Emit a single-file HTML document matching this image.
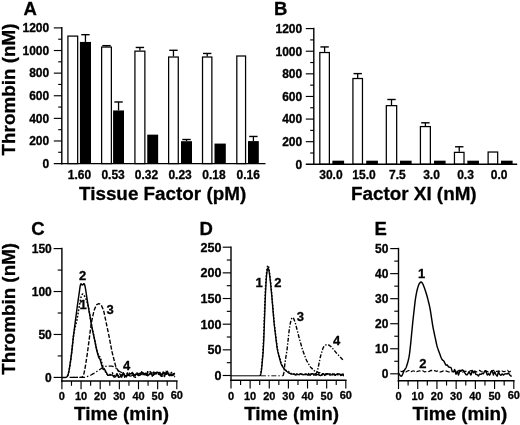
<!DOCTYPE html>
<html><head><meta charset="utf-8"><title>Figure</title>
<style>
html,body{margin:0;padding:0;background:#fff;overflow:hidden;}
svg{will-change:transform;filter:blur(0.35px);display:block;position:absolute;left:0;top:0;font-family:"Liberation Sans",sans-serif;font-weight:bold;fill:#000;}
svg text{stroke:#000;stroke-width:0.3px;stroke-linejoin:round;}
</style></head>
<body>
<svg width="520" height="425" viewBox="0 0 520 425">
<rect x="0" y="0" width="520" height="425" fill="#fff"/>
<rect x="67.92" y="36.10" width="9.75" height="127.50" fill="#fff" stroke="#000" stroke-width="1.25"/>
<line x1="85.45" y1="34.69" x2="85.45" y2="41.92" stroke="#000" stroke-width="1.3" />
<line x1="81.25" y1="34.69" x2="89.65" y2="34.69" stroke="#000" stroke-width="1.4" />
<rect x="79.90" y="41.92" width="11.10" height="121.68" fill="#000"/>
<text x="79.40" y="178.80" font-size="12" text-anchor="middle" >1.60</text>
<line x1="106.50" y1="45.65" x2="106.50" y2="46.45" stroke="#000" stroke-width="1.3" />
<line x1="102.30" y1="45.65" x2="110.70" y2="45.65" stroke="#000" stroke-width="1.4" />
<rect x="101.62" y="47.07" width="9.75" height="116.53" fill="#fff" stroke="#000" stroke-width="1.25"/>
<line x1="118.55" y1="101.97" x2="118.55" y2="110.45" stroke="#000" stroke-width="1.3" />
<line x1="114.35" y1="101.97" x2="122.75" y2="101.97" stroke="#000" stroke-width="1.4" />
<rect x="113.10" y="110.45" width="10.90" height="53.15" fill="#000"/>
<text x="113.10" y="178.80" font-size="12" text-anchor="middle" >0.53</text>
<line x1="139.90" y1="47.46" x2="139.90" y2="50.52" stroke="#000" stroke-width="1.3" />
<line x1="135.70" y1="47.46" x2="144.10" y2="47.46" stroke="#000" stroke-width="1.4" />
<rect x="134.92" y="51.14" width="9.95" height="112.46" fill="#fff" stroke="#000" stroke-width="1.25"/>
<rect x="147.25" y="134.65" width="10.90" height="28.95" fill="#000"/>
<text x="146.40" y="178.80" font-size="12" text-anchor="middle" >0.32</text>
<line x1="173.45" y1="50.29" x2="173.45" y2="56.40" stroke="#000" stroke-width="1.3" />
<line x1="169.25" y1="50.29" x2="177.65" y2="50.29" stroke="#000" stroke-width="1.4" />
<rect x="168.62" y="57.02" width="9.65" height="106.58" fill="#fff" stroke="#000" stroke-width="1.25"/>
<line x1="186.50" y1="139.51" x2="186.50" y2="141.21" stroke="#000" stroke-width="1.3" />
<line x1="182.30" y1="139.51" x2="190.70" y2="139.51" stroke="#000" stroke-width="1.4" />
<rect x="181.00" y="141.21" width="11.00" height="22.39" fill="#000"/>
<text x="180.10" y="178.80" font-size="12" text-anchor="middle" >0.23</text>
<line x1="207.20" y1="53.46" x2="207.20" y2="56.40" stroke="#000" stroke-width="1.3" />
<line x1="203.00" y1="53.46" x2="211.40" y2="53.46" stroke="#000" stroke-width="1.4" />
<rect x="202.52" y="57.02" width="9.35" height="106.58" fill="#fff" stroke="#000" stroke-width="1.25"/>
<rect x="214.50" y="143.58" width="11.30" height="20.02" fill="#000"/>
<text x="214.00" y="178.80" font-size="12" text-anchor="middle" >0.18</text>
<rect x="236.82" y="56.00" width="8.75" height="107.60" fill="#fff" stroke="#000" stroke-width="1.25"/>
<line x1="253.40" y1="136.46" x2="253.40" y2="141.10" stroke="#000" stroke-width="1.3" />
<line x1="249.20" y1="136.46" x2="257.60" y2="136.46" stroke="#000" stroke-width="1.4" />
<rect x="248.00" y="141.10" width="10.80" height="22.50" fill="#000"/>
<text x="248.30" y="178.80" font-size="12" text-anchor="middle" >0.16</text>
<line x1="61.80" y1="27.10" x2="61.80" y2="164.40" stroke="#000" stroke-width="1.4" />
<line x1="53.80" y1="163.60" x2="265.50" y2="163.60" stroke="#000" stroke-width="1.4" />
<text x="49.20" y="167.90" font-size="12" text-anchor="end" >0</text>
<line x1="58.20" y1="152.29" x2="61.80" y2="152.29" stroke="#000" stroke-width="1.15" />
<line x1="53.80" y1="140.98" x2="61.80" y2="140.98" stroke="#000" stroke-width="1.15" />
<text x="49.20" y="145.28" font-size="12" text-anchor="end" >200</text>
<line x1="58.20" y1="129.68" x2="61.80" y2="129.68" stroke="#000" stroke-width="1.15" />
<line x1="53.80" y1="118.37" x2="61.80" y2="118.37" stroke="#000" stroke-width="1.15" />
<text x="49.20" y="122.66" font-size="12" text-anchor="end" >400</text>
<line x1="58.20" y1="107.06" x2="61.80" y2="107.06" stroke="#000" stroke-width="1.15" />
<line x1="53.80" y1="95.75" x2="61.80" y2="95.75" stroke="#000" stroke-width="1.15" />
<text x="49.20" y="100.05" font-size="12" text-anchor="end" >600</text>
<line x1="58.20" y1="84.44" x2="61.80" y2="84.44" stroke="#000" stroke-width="1.15" />
<line x1="53.80" y1="73.13" x2="61.80" y2="73.13" stroke="#000" stroke-width="1.15" />
<text x="49.20" y="77.43" font-size="12" text-anchor="end" >800</text>
<line x1="58.20" y1="61.83" x2="61.80" y2="61.83" stroke="#000" stroke-width="1.15" />
<line x1="53.80" y1="50.52" x2="61.80" y2="50.52" stroke="#000" stroke-width="1.15" />
<text x="49.20" y="54.81" font-size="12" text-anchor="end" >1000</text>
<line x1="58.20" y1="39.21" x2="61.80" y2="39.21" stroke="#000" stroke-width="1.15" />
<line x1="53.80" y1="27.90" x2="61.80" y2="27.90" stroke="#000" stroke-width="1.15" />
<text x="49.20" y="32.20" font-size="12" text-anchor="end" >1200</text>
<text x="23.50" y="14.80" font-size="18.5" text-anchor="start" >A</text>
<text x="79.00" y="199.60" font-size="18.85" text-anchor="start" >Tissue Factor (pM)</text>
<line x1="324.60" y1="46.92" x2="324.60" y2="51.90" stroke="#000" stroke-width="1.3" />
<line x1="320.40" y1="46.92" x2="328.80" y2="46.92" stroke="#000" stroke-width="1.4" />
<rect x="319.82" y="52.52" width="9.55" height="111.78" fill="#fff" stroke="#000" stroke-width="1.25"/>
<rect x="332.40" y="160.68" width="11.70" height="3.62" fill="#000"/>
<text x="330.90" y="178.80" font-size="12" text-anchor="middle" >30.0</text>
<line x1="357.70" y1="73.61" x2="357.70" y2="77.90" stroke="#000" stroke-width="1.3" />
<line x1="353.50" y1="73.61" x2="361.90" y2="73.61" stroke="#000" stroke-width="1.4" />
<rect x="352.92" y="78.52" width="9.55" height="85.78" fill="#fff" stroke="#000" stroke-width="1.25"/>
<rect x="366.20" y="160.68" width="11.70" height="3.62" fill="#000"/>
<text x="364.00" y="178.80" font-size="12" text-anchor="middle" >15.0</text>
<line x1="391.50" y1="99.50" x2="391.50" y2="105.04" stroke="#000" stroke-width="1.3" />
<line x1="387.30" y1="99.50" x2="395.70" y2="99.50" stroke="#000" stroke-width="1.4" />
<rect x="386.32" y="105.66" width="10.35" height="58.64" fill="#fff" stroke="#000" stroke-width="1.25"/>
<rect x="400.00" y="160.68" width="11.60" height="3.62" fill="#000"/>
<text x="397.40" y="178.80" font-size="12" text-anchor="middle" >7.5</text>
<line x1="425.40" y1="122.80" x2="425.40" y2="125.96" stroke="#000" stroke-width="1.3" />
<line x1="421.20" y1="122.80" x2="429.60" y2="122.80" stroke="#000" stroke-width="1.4" />
<rect x="420.42" y="126.58" width="9.95" height="37.72" fill="#fff" stroke="#000" stroke-width="1.25"/>
<rect x="434.00" y="160.68" width="11.60" height="3.62" fill="#000"/>
<text x="431.50" y="178.80" font-size="12" text-anchor="middle" >3.0</text>
<line x1="459.24" y1="146.77" x2="459.24" y2="151.75" stroke="#000" stroke-width="1.3" />
<line x1="455.04" y1="146.77" x2="463.44" y2="146.77" stroke="#000" stroke-width="1.4" />
<rect x="454.46" y="152.37" width="9.55" height="11.93" fill="#fff" stroke="#000" stroke-width="1.25"/>
<rect x="467.34" y="160.68" width="11.60" height="3.62" fill="#000"/>
<text x="465.54" y="178.80" font-size="12" text-anchor="middle" >0.3</text>
<rect x="488.12" y="152.03" width="9.55" height="12.27" fill="#fff" stroke="#000" stroke-width="1.25"/>
<rect x="501.00" y="160.68" width="11.60" height="3.62" fill="#000"/>
<text x="499.20" y="178.80" font-size="12" text-anchor="middle" >0.0</text>
<line x1="313.80" y1="27.80" x2="313.80" y2="165.10" stroke="#000" stroke-width="1.4" />
<line x1="305.80" y1="164.30" x2="517.20" y2="164.30" stroke="#000" stroke-width="1.4" />
<text x="302.20" y="168.60" font-size="12" text-anchor="end" >0</text>
<line x1="310.20" y1="152.99" x2="313.80" y2="152.99" stroke="#000" stroke-width="1.15" />
<line x1="305.80" y1="141.68" x2="313.80" y2="141.68" stroke="#000" stroke-width="1.15" />
<text x="302.20" y="145.98" font-size="12" text-anchor="end" >200</text>
<line x1="310.20" y1="130.38" x2="313.80" y2="130.38" stroke="#000" stroke-width="1.15" />
<line x1="305.80" y1="119.07" x2="313.80" y2="119.07" stroke="#000" stroke-width="1.15" />
<text x="302.20" y="123.36" font-size="12" text-anchor="end" >400</text>
<line x1="310.20" y1="107.76" x2="313.80" y2="107.76" stroke="#000" stroke-width="1.15" />
<line x1="305.80" y1="96.45" x2="313.80" y2="96.45" stroke="#000" stroke-width="1.15" />
<text x="302.20" y="100.75" font-size="12" text-anchor="end" >600</text>
<line x1="310.20" y1="85.14" x2="313.80" y2="85.14" stroke="#000" stroke-width="1.15" />
<line x1="305.80" y1="73.83" x2="313.80" y2="73.83" stroke="#000" stroke-width="1.15" />
<text x="302.20" y="78.13" font-size="12" text-anchor="end" >800</text>
<line x1="310.20" y1="62.53" x2="313.80" y2="62.53" stroke="#000" stroke-width="1.15" />
<line x1="305.80" y1="51.22" x2="313.80" y2="51.22" stroke="#000" stroke-width="1.15" />
<text x="302.20" y="55.51" font-size="12" text-anchor="end" >1000</text>
<line x1="310.20" y1="39.91" x2="313.80" y2="39.91" stroke="#000" stroke-width="1.15" />
<line x1="305.80" y1="28.60" x2="313.80" y2="28.60" stroke="#000" stroke-width="1.15" />
<text x="302.20" y="32.90" font-size="12" text-anchor="end" >1200</text>
<text x="273.90" y="14.80" font-size="18.5" text-anchor="start" >B</text>
<text x="351.00" y="199.60" font-size="18.85" text-anchor="start" >Factor XI (nM)</text>
<text transform="translate(15.20,89.50) rotate(-90)" font-size="18.85" text-anchor="middle">Thrombin (nM)</text>
<text transform="translate(15.20,308.80) rotate(-90)" font-size="18.85" text-anchor="middle">Thrombin (nM)</text>
<line x1="61.90" y1="247.80" x2="61.90" y2="381.80" stroke="#000" stroke-width="1.4" />
<line x1="61.10" y1="381.00" x2="177.60" y2="381.00" stroke="#000" stroke-width="1.4" />
<line x1="53.60" y1="377.40" x2="61.90" y2="377.40" stroke="#000" stroke-width="1.15" />
<text x="51.80" y="381.90" font-size="12" text-anchor="end" >0</text>
<line x1="57.70" y1="355.93" x2="61.90" y2="355.93" stroke="#000" stroke-width="1.15" />
<line x1="53.60" y1="334.47" x2="61.90" y2="334.47" stroke="#000" stroke-width="1.15" />
<text x="51.80" y="338.96" font-size="12" text-anchor="end" >50</text>
<line x1="57.70" y1="313.00" x2="61.90" y2="313.00" stroke="#000" stroke-width="1.15" />
<line x1="53.60" y1="291.53" x2="61.90" y2="291.53" stroke="#000" stroke-width="1.15" />
<text x="51.80" y="296.03" font-size="12" text-anchor="end" >100</text>
<line x1="57.70" y1="270.07" x2="61.90" y2="270.07" stroke="#000" stroke-width="1.15" />
<line x1="53.60" y1="248.60" x2="61.90" y2="248.60" stroke="#000" stroke-width="1.15" />
<text x="51.80" y="253.10" font-size="12" text-anchor="end" >150</text>
<line x1="61.90" y1="381.00" x2="61.90" y2="389.30" stroke="#000" stroke-width="1.15" />
<text x="61.90" y="399.90" font-size="11.0" text-anchor="middle" >0</text>
<line x1="71.47" y1="381.00" x2="71.47" y2="385.80" stroke="#000" stroke-width="1.15" />
<line x1="81.05" y1="381.00" x2="81.05" y2="389.30" stroke="#000" stroke-width="1.15" />
<text x="81.05" y="399.90" font-size="11.0" text-anchor="middle" >10</text>
<line x1="90.62" y1="381.00" x2="90.62" y2="385.80" stroke="#000" stroke-width="1.15" />
<line x1="100.20" y1="381.00" x2="100.20" y2="389.30" stroke="#000" stroke-width="1.15" />
<text x="100.20" y="399.90" font-size="11.0" text-anchor="middle" >20</text>
<line x1="109.78" y1="381.00" x2="109.78" y2="385.80" stroke="#000" stroke-width="1.15" />
<line x1="119.35" y1="381.00" x2="119.35" y2="389.30" stroke="#000" stroke-width="1.15" />
<text x="119.35" y="399.90" font-size="11.0" text-anchor="middle" >30</text>
<line x1="128.93" y1="381.00" x2="128.93" y2="385.80" stroke="#000" stroke-width="1.15" />
<line x1="138.50" y1="381.00" x2="138.50" y2="389.30" stroke="#000" stroke-width="1.15" />
<text x="138.50" y="399.90" font-size="11.0" text-anchor="middle" >40</text>
<line x1="148.07" y1="381.00" x2="148.07" y2="385.80" stroke="#000" stroke-width="1.15" />
<line x1="157.65" y1="381.00" x2="157.65" y2="389.30" stroke="#000" stroke-width="1.15" />
<text x="157.65" y="399.90" font-size="11.0" text-anchor="middle" >50</text>
<line x1="167.22" y1="381.00" x2="167.22" y2="385.80" stroke="#000" stroke-width="1.15" />
<line x1="176.80" y1="381.00" x2="176.80" y2="389.30" stroke="#000" stroke-width="1.15" />
<text x="176.80" y="399.20" font-size="11.0" text-anchor="middle" >60</text>
<text x="31.20" y="234.50" font-size="18.5" text-anchor="start" >C</text>
<text x="74.00" y="420.20" font-size="18.85" text-anchor="start" >Time (min)</text>
<path d="M61.90,377.40 L62.28,377.40 L62.67,377.40 L63.05,377.40 L63.43,377.40 L63.81,377.40 L64.20,377.40 L64.58,377.40 L64.96,377.40 L65.35,377.40 L65.73,377.38 L66.11,377.28 L66.50,377.06 L66.88,376.76 L67.26,376.37 L67.64,375.73 L68.03,374.70 L68.41,373.38 L68.79,371.82 L69.18,369.92 L69.56,367.67 L69.94,365.23 L70.33,362.65 L70.71,359.91 L71.09,357.06 L71.48,354.10 L71.86,350.89 L72.24,347.39 L72.62,343.73 L73.01,340.11 L73.39,336.70 L73.77,333.56 L74.16,330.57 L74.54,327.61 L74.92,324.66 L75.31,321.69 L75.69,318.71 L76.07,315.73 L76.45,312.74 L76.84,309.76 L77.22,306.84 L77.60,304.02 L77.99,301.30 L78.37,298.64 L78.75,295.98 L79.14,293.32 L79.52,290.62 L79.90,287.91 L80.28,285.53 L80.67,284.08 L81.05,283.78 L81.43,284.17 L81.82,284.68 L82.20,285.02 L82.58,285.03 L82.96,284.72 L83.35,284.23 L83.73,283.79 L84.11,283.69 L84.50,284.29 L84.88,285.62 L85.26,287.43 L85.65,289.57 L86.03,291.99 L86.41,294.54 L86.79,297.11 L87.18,299.68 L87.56,302.18 L87.94,304.55 L88.33,306.80 L88.71,308.98 L89.09,311.15 L89.48,313.32 L89.86,315.49 L90.24,317.69 L90.62,319.95 L91.01,322.24 L91.39,324.38 L91.77,326.42 L92.16,328.38 L92.54,330.32 L92.92,332.09 L93.31,333.81 L93.69,335.48 L94.07,337.11 L94.45,339.03 L94.84,340.96 L95.22,342.89 L95.60,344.83 L95.99,346.76 L96.37,348.66 L96.75,350.42 L97.14,351.88 L97.52,353.30 L97.90,354.60 L98.28,355.90 L98.67,357.22 L99.05,357.88 L99.43,358.52 L99.82,359.12 L100.20,359.69 L100.58,361.06 L100.97,362.46 L101.35,363.88 L101.73,365.30 L102.11,366.49 L102.50,367.59 L102.88,368.54 L103.26,369.40 L103.65,369.47 L104.03,369.53 L104.41,369.59 L104.80,369.62 L105.18,370.40 L105.56,371.12 L105.94,371.82 L106.33,372.50 L106.71,373.24 L107.09,373.97 L107.48,374.69 L107.86,375.36 L108.24,375.35 L108.63,375.28 L109.01,375.20 L109.39,375.12 L109.77,375.06 L110.16,374.99 L110.54,374.93 L110.92,374.87 L111.31,374.93 L111.69,374.98 L112.07,375.01 L112.46,375.02 L112.84,375.53 L113.22,376.04 L113.60,376.55 L113.99,377.07 L114.37,377.01 L114.75,376.95 L115.14,376.90 L115.52,376.85 L115.90,376.12 L116.29,375.40 L116.67,374.69 L117.05,373.97 L117.43,374.81 L117.82,375.66 L118.20,376.50 L118.58,377.35 L118.97,377.24 L119.35,377.06 L119.73,376.78 L120.12,376.43 L120.50,376.60 L120.88,376.78 L121.26,376.97 L121.65,377.15 L122.03,376.03 L122.41,374.90 L122.80,373.78 L123.18,372.68 L123.56,373.27 L123.95,373.89 L124.33,374.52 L124.71,375.15 L125.09,375.59 L125.48,376.03 L125.86,376.47 L126.24,376.91 L126.63,376.39 L127.01,375.87 L127.39,375.35 L127.78,374.83 L128.16,374.65 L128.54,374.47 L128.92,374.30 L129.31,374.12 L129.69,374.03 L130.07,373.94 L130.46,373.85 L130.84,373.76 L131.22,373.46 L131.61,373.16 L131.99,372.85 L132.37,372.55 L132.75,373.25 L133.14,373.96 L133.52,374.68 L133.90,375.39 L134.29,375.09 L134.67,374.79 L135.05,374.48 L135.44,374.18 L135.82,374.11 L136.20,374.05 L136.59,373.98 L136.97,373.91 L137.35,374.33 L137.73,374.75 L138.12,375.18 L138.50,375.61 L138.88,375.42 L139.27,375.23 L139.65,375.04 L140.03,374.86 L140.42,374.14 L140.80,373.43 L141.18,372.71 L141.56,371.99 L141.95,372.38 L142.33,372.77 L142.71,373.16 L143.10,373.55 L143.48,373.83 L143.86,374.11 L144.25,374.39 L144.63,374.68 L145.01,374.36 L145.39,374.04 L145.78,373.73 L146.16,373.41 L146.54,373.99 L146.93,374.57 L147.31,375.15 L147.69,375.74 L148.08,375.43 L148.46,375.13 L148.84,374.82 L149.22,374.51 L149.61,374.04 L149.99,373.57 L150.37,373.09 L150.76,372.62 L151.14,373.36 L151.52,374.11 L151.91,374.86 L152.29,375.61 L152.67,375.42 L153.05,375.23 L153.44,375.04 L153.82,374.84 L154.20,374.34 L154.59,373.83 L154.97,373.32 L155.35,372.81 L155.74,372.77 L156.12,372.72 L156.50,372.68 L156.88,372.64 L157.27,372.62 L157.65,372.59 L158.03,372.57 L158.42,372.55 L158.80,373.11 L159.18,373.66 L159.57,374.22 L159.95,374.78 L160.33,374.71 L160.71,374.64 L161.10,374.57 L161.48,374.49 L161.86,374.33 L162.25,374.16 L162.63,373.99 L163.01,373.81 L163.40,373.83 L163.78,373.84 L164.16,373.86 L164.54,373.87 L164.93,373.74 L165.31,373.61 L165.69,373.48 L166.08,373.35 L166.46,373.34 L166.84,373.33 L167.23,373.33 L167.61,373.32 L167.99,373.77 L168.37,374.23 L168.76,374.69 L169.14,375.15 L169.52,375.23 L169.91,375.30 L170.29,375.38 L170.67,375.46 L171.06,375.48 L171.44,375.49 L171.82,375.51 L172.20,375.52 L172.59,375.16 L172.97,374.80 L173.35,374.44 L173.74,374.08 L174.12,373.77 L174.50,373.45 L174.89,373.14" fill="none" stroke="#000" stroke-width="1.45" stroke-linejoin="round" />
<path d="M67.64,376.11 L68.03,374.76 L68.41,373.38 L68.79,371.82 L69.18,369.92 L69.56,367.67 L69.94,365.23 L70.33,362.65 L70.71,359.91 L71.09,357.06 L71.48,354.10 L71.86,350.89 L72.24,347.39 L72.62,343.73 L73.01,340.16 L73.39,336.92 L73.77,334.10 L74.16,331.70 L74.54,329.69 L74.92,328.03 L75.31,326.54 L75.69,325.09 L76.07,323.63 L76.45,322.13 L76.84,320.41 L77.22,318.39 L77.60,316.15 L77.99,313.86 L78.37,311.57 L78.75,309.29 L79.14,307.08 L79.52,304.94 L79.90,302.87 L80.28,300.81 L80.67,298.82 L81.05,297.14 L81.43,295.90 L81.82,295.00 L82.20,294.37 L82.58,294.10 L82.96,294.20 L83.35,294.50 L83.73,294.89 L84.11,295.39 L84.50,296.01 L84.88,296.69 L85.26,297.39 L85.65,298.16 L86.03,299.08 L86.41,300.13 L86.79,301.26 L87.18,302.41 L87.56,303.59 L87.94,304.92 L88.33,306.58 L88.71,308.56 L89.09,310.70 L89.48,312.86 L89.86,315.05 L90.24,317.26 L90.62,319.48 L91.01,321.69 L91.39,323.89 L91.77,326.00 L92.16,327.98 L92.54,329.86 L92.92,331.66 L93.31,333.44 L93.69,335.21 L94.07,336.96 L94.45,338.82 L94.84,340.67 L95.22,342.54 L95.60,344.40 L95.99,346.05 L96.37,347.67 L96.75,349.25 L97.14,350.67 L97.52,352.19 L97.90,353.45 L98.28,354.61 L98.67,355.74 L99.05,356.14 L99.43,356.48 L99.82,356.78 L100.20,357.03 L100.58,358.31 L100.97,359.62 L101.35,360.99 L101.73,362.38 L102.11,363.75 L102.50,365.10 L102.88,366.35 L103.26,367.46 L103.65,368.07 L104.03,368.67 L104.41,369.26 L104.80,369.85 L105.18,370.96 L105.56,372.00 L105.94,372.99 L106.33,373.95 L106.71,374.13 L107.09,374.31 L107.48,374.50 L107.86,374.67 L108.24,374.93 L108.63,375.12 L109.01,375.25 L109.39,375.37 L109.77,374.95 L110.16,374.53 L110.54,374.11 L110.92,373.69 L111.31,373.53 L111.69,373.35 L112.07,373.14 L112.46,372.90 L112.84,373.57 L113.22,374.23 L113.60,374.90 L113.99,375.56 L114.37,375.72 L114.75,375.89 L115.14,376.05 L115.52,376.22 L115.90,375.60 L116.29,374.98 L116.67,374.36 L117.05,373.75 L117.43,374.41 L117.82,375.08 L118.20,375.74 L118.58,376.41 L118.97,376.44 L119.35,376.41 L119.73,376.27 L120.12,376.06 L120.50,375.62 L120.88,375.18 L121.26,374.73 L121.65,374.29 L122.03,374.10 L122.41,373.92 L122.80,373.75 L123.18,373.60 L123.56,374.03 L123.95,374.49 L124.33,374.96 L124.71,375.43 L125.09,375.56 L125.48,375.69 L125.86,375.83 L126.24,375.96 L126.63,375.02 L127.01,374.07 L127.39,373.12 L127.78,372.16 L128.16,372.40 L128.54,372.64 L128.92,372.88 L129.31,373.12 L129.69,373.85 L130.07,374.59 L130.46,375.32 L130.84,376.07 L131.22,375.38 L131.61,374.70 L131.99,374.01 L132.37,373.32 L132.75,373.52 L133.14,373.73 L133.52,373.94 L133.90,374.14 L134.29,374.55 L134.67,374.95 L135.05,375.36 L135.44,375.76 L135.82,375.45 L136.20,375.14 L136.59,374.83 L136.97,374.52 L137.35,374.58 L137.73,374.65 L138.12,374.72 L138.50,374.79 L138.88,374.43 L139.27,374.08 L139.65,373.72 L140.03,373.37 L140.42,373.45 L140.80,373.53 L141.18,373.60 L141.56,373.68 L141.95,373.67 L142.33,373.65 L142.71,373.63 L143.10,373.62 L143.48,374.05 L143.86,374.49 L144.25,374.92 L144.63,375.36 L145.01,374.54 L145.39,373.72 L145.78,372.90 L146.16,372.07 L146.54,371.99 L146.93,371.92 L147.31,371.84 L147.69,371.77 L148.08,372.20 L148.46,372.63 L148.84,373.06 L149.22,373.50 L149.61,373.54 L149.99,373.59 L150.37,373.64 L150.76,373.69 L151.14,373.58 L151.52,373.46 L151.91,373.35 L152.29,373.23 L152.67,372.98 L153.05,372.73 L153.44,372.48 L153.82,372.23 L154.20,372.45 L154.59,372.67 L154.97,372.89 L155.35,373.11 L155.74,373.57 L156.12,374.03 L156.50,374.49 L156.88,374.95 L157.27,374.78 L157.65,374.60 L158.03,374.42 L158.42,374.25 L158.80,373.99 L159.18,373.72 L159.57,373.46 L159.95,373.20 L160.33,373.85 L160.71,374.51 L161.10,375.17 L161.48,375.84 L161.86,374.84 L162.25,373.84 L162.63,372.84 L163.01,371.83 L163.40,372.97 L163.78,374.12 L164.16,375.27 L164.54,376.42 L164.93,375.17 L165.31,373.91 L165.69,372.65 L166.08,371.38 L166.46,371.97 L166.84,372.56 L167.23,373.15 L167.61,373.74 L167.99,373.50 L168.37,373.26 L168.76,373.01 L169.14,372.76 L169.52,372.57 L169.91,372.37 L170.29,372.18 L170.67,371.98 L171.06,372.27 L171.44,372.56 L171.82,372.85 L172.20,373.14 L172.59,373.61 L172.97,374.09 L173.35,374.57 L173.74,375.05 L174.12,374.93 L174.50,374.81 L174.89,374.68" fill="none" stroke="#000" stroke-width="1.5" stroke-linejoin="round" stroke-dasharray="1.7 1.6"/>
<path d="M73.39,377.40 L73.77,377.40 L74.16,377.40 L74.54,377.40 L74.92,377.40 L75.31,377.40 L75.69,377.40 L76.07,377.40 L76.45,377.40 L76.84,377.40 L77.22,377.40 L77.60,377.40 L77.99,377.40 L78.37,377.40 L78.75,377.40 L79.13,377.40 L79.52,377.40 L79.90,377.40 L80.28,377.40 L80.67,377.40 L81.05,377.40 L81.43,377.38 L81.82,377.27 L82.20,376.99 L82.58,376.52 L82.96,375.97 L83.35,375.31 L83.73,374.31 L84.11,372.81 L84.50,370.96 L84.88,368.99 L85.26,366.88 L85.65,364.56 L86.03,362.09 L86.41,359.58 L86.79,357.08 L87.18,354.54 L87.56,351.88 L87.94,349.03 L88.33,346.06 L88.71,343.05 L89.09,340.05 L89.48,337.07 L89.86,334.13 L90.24,331.20 L90.62,328.28 L91.01,325.44 L91.39,322.90 L91.77,320.80 L92.16,319.01 L92.54,317.29 L92.92,315.58 L93.31,313.86 L93.69,312.19 L94.07,310.72 L94.45,309.54 L94.84,308.56 L95.22,307.63 L95.60,306.70 L95.99,305.82 L96.37,305.12 L96.75,304.69 L97.14,304.45 L97.52,304.25 L97.90,304.05 L98.28,303.86 L98.67,303.74 L99.05,303.75 L99.43,303.89 L99.82,304.09 L100.20,304.31 L100.58,304.54 L100.97,304.88 L101.35,305.41 L101.73,306.15 L102.11,306.99 L102.50,307.85 L102.88,308.71 L103.26,309.63 L103.65,310.80 L104.03,312.34 L104.41,314.12 L104.80,315.97 L105.18,317.82 L105.56,319.67 L105.94,321.52 L106.33,323.35 L106.71,325.18 L107.09,327.01 L107.48,328.83 L107.86,330.66 L108.24,332.48 L108.63,334.31 L109.01,336.17 L109.39,338.08 L109.77,340.05 L110.16,342.05 L110.54,344.06 L110.92,346.06 L111.31,348.06 L111.69,350.03 L112.07,351.88 L112.46,353.54 L112.84,355.07 L113.22,356.58 L113.60,358.08 L113.99,359.58 L114.37,361.09 L114.75,362.59 L115.14,364.09 L115.52,365.54 L115.90,366.77 L116.29,367.67 L116.67,368.35 L117.05,368.98 L117.43,369.60 L117.82,370.22 L118.20,370.96 L118.58,371.83 L118.97,372.53 L119.35,373.22 L119.73,373.87 L120.12,374.44 L120.50,374.82 L120.88,375.03 L121.26,375.15 L121.65,375.23 L122.03,374.86 L122.41,374.40 L122.80,373.84 L123.18,373.19 L123.56,374.02 L123.95,374.96 L124.33,376.01 L124.71,377.16 L125.09,376.83 L125.48,376.37 L125.86,375.86 L126.24,375.34 L126.63,375.35 L127.01,375.36 L127.39,375.37 L127.78,375.39 L128.16,375.38 L128.54,375.38 L128.92,375.38 L129.31,375.38 L129.69,375.39 L130.07,375.40 L130.46,375.42 L130.84,375.43 L131.22,375.39 L131.61,375.35 L131.99,375.31 L132.37,375.27 L132.75,375.17 L133.14,375.08 L133.52,374.98 L133.90,374.88 L134.29,375.00 L134.67,375.12 L135.05,375.24 L135.44,375.36 L135.82,374.76 L136.20,374.16 L136.59,373.56 L136.97,372.96 L137.35,373.20 L137.73,373.45 L138.12,373.70 L138.50,373.96 L138.88,373.80 L139.27,373.65 L139.65,373.50 L140.03,373.35 L140.42,373.04 L140.80,372.73 L141.18,372.42 L141.56,372.10 L141.95,372.30 L142.33,372.50 L142.71,372.70 L143.10,372.90 L143.48,373.16 L143.86,373.41 L144.25,373.67 L144.63,373.93 L145.01,374.28 L145.39,374.63 L145.78,374.99 L146.16,375.35 L146.54,374.50 L146.93,373.65 L147.31,372.80 L147.69,371.95 L148.08,371.75 L148.46,371.56 L148.84,371.36 L149.22,371.17 L149.61,371.40 L149.99,371.64 L150.37,371.88 L150.76,372.12 L151.14,372.81 L151.52,373.50 L151.91,374.19 L152.29,374.88 L152.67,374.24 L153.05,373.59 L153.44,372.93 L153.82,372.28 L154.20,372.81 L154.59,373.35 L154.97,373.88 L155.35,374.42 L155.74,373.83 L156.12,373.23 L156.50,372.62 L156.88,372.02 L157.27,372.27 L157.65,372.53 L158.03,372.78 L158.42,373.04 L158.80,373.58 L159.18,374.13 L159.57,374.67 L159.95,375.22 L160.33,375.50 L160.71,375.78 L161.10,376.06 L161.48,376.34 L161.86,375.29 L162.25,374.23 L162.63,373.17 L163.01,372.10 L163.40,372.28 L163.78,372.46 L164.16,372.64 L164.54,372.82 L164.93,373.49 L165.31,374.16 L165.69,374.84 L166.08,375.52 L166.46,374.46 L166.84,373.40 L167.23,372.33 L167.61,371.26 L167.99,372.32 L168.37,373.40 L168.76,374.47 L169.14,375.55 L169.52,375.38 L169.91,375.20 L170.29,375.02 L170.67,374.84 L171.06,374.69 L171.44,374.53 L171.82,374.38 L172.20,374.22 L172.59,374.10 L172.97,373.98 L173.35,373.86 L173.74,373.74 L174.12,373.66 L174.50,373.57 L174.89,373.48" fill="none" stroke="#000" stroke-width="1.4" stroke-linejoin="round" stroke-dasharray="4.2 1.7"/>
<path d="M69.56,377.40 L69.94,377.40 L70.33,377.40 L70.71,377.40 L71.09,377.40 L71.47,377.40 L71.86,377.40 L72.24,377.40 L72.62,377.40 L73.01,377.40 L73.39,377.40 L73.77,377.40 L74.16,377.40 L74.54,377.40 L74.92,377.40 L75.31,377.40 L75.69,377.40 L76.07,377.40 L76.45,377.40 L76.84,377.40 L77.22,377.40 L77.60,377.40 L77.99,377.40 L78.37,377.40 L78.75,377.40 L79.14,377.40 L79.52,377.40 L79.90,377.40 L80.28,377.40 L80.67,377.40 L81.05,377.40 L81.43,377.40 L81.82,377.40 L82.20,377.40 L82.58,377.40 L82.96,377.40 L83.35,377.40 L83.73,377.40 L84.11,377.40 L84.50,377.39 L84.88,377.35 L85.26,377.25 L85.65,377.11 L86.03,376.97 L86.41,376.83 L86.79,376.68 L87.18,376.54 L87.56,376.40 L87.94,376.26 L88.33,376.11 L88.71,375.97 L89.09,375.83 L89.48,375.68 L89.86,375.54 L90.24,375.39 L90.62,375.22 L91.01,375.02 L91.39,374.80 L91.77,374.57 L92.16,374.34 L92.54,374.11 L92.92,373.88 L93.31,373.65 L93.69,373.42 L94.07,373.19 L94.45,372.96 L94.84,372.73 L95.22,372.51 L95.60,372.28 L95.99,372.05 L96.37,371.81 L96.75,371.56 L97.14,371.30 L97.52,371.05 L97.90,370.79 L98.28,370.53 L98.67,370.27 L99.05,370.02 L99.43,369.76 L99.82,369.50 L100.20,369.24 L100.58,368.99 L100.97,368.73 L101.35,368.47 L101.73,368.22 L102.11,367.99 L102.50,367.79 L102.88,367.61 L103.26,367.44 L103.65,367.27 L104.03,367.10 L104.41,366.92 L104.80,366.75 L105.18,366.58 L105.56,366.42 L105.94,366.30 L106.33,366.25 L106.71,366.24 L107.09,366.24 L107.48,366.24 L107.86,366.24 L108.24,366.24 L108.63,366.24 L109.01,366.24 L109.39,366.24 L109.77,366.24 L110.16,366.24 L110.54,366.24 L110.92,366.24 L111.31,366.24 L111.69,366.24 L112.07,366.24 L112.46,366.28 L112.84,366.39 L113.22,366.57 L113.60,366.77 L113.99,366.99 L114.37,367.20 L114.75,367.42 L115.14,367.63 L115.52,367.85 L115.90,368.07 L116.29,368.32 L116.67,368.63 L117.05,368.99 L117.43,369.39 L117.82,369.79 L118.20,370.19 L118.58,370.59 L118.97,370.98 L119.35,371.34 L119.73,371.59 L120.12,371.77 L120.50,371.94 L120.88,372.11 L121.26,372.26 L121.65,372.41 L122.03,372.64 L122.41,372.88 L122.80,373.13 L123.18,373.35 L123.56,373.77 L123.95,374.21 L124.33,374.70 L124.71,375.26 L125.09,375.06 L125.48,374.81 L125.86,374.51 L126.24,374.16 L126.63,374.10 L127.01,374.02 L127.39,373.93 L127.78,373.82 L128.16,374.35 L128.54,374.87 L128.92,375.40 L129.31,375.93 L129.69,375.71 L130.07,375.48 L130.46,375.26 L130.84,375.03 L131.22,374.46 L131.61,373.89 L131.99,373.31 L132.37,372.73 L132.75,373.73 L133.14,374.73 L133.52,375.74 L133.90,376.75 L134.29,376.91 L134.67,377.06 L135.05,377.22 L135.44,377.38 L135.82,376.54 L136.20,375.70 L136.59,374.86 L136.97,374.01 L137.35,374.43 L137.73,374.85 L138.12,375.28 L138.50,375.70 L138.88,375.55 L139.27,375.40 L139.65,375.24 L140.03,375.09 L140.42,374.77 L140.80,374.45 L141.18,374.14 L141.56,373.82 L141.95,374.31 L142.33,374.81 L142.71,375.31 L143.10,375.81 L143.48,374.97 L143.86,374.14 L144.25,373.30 L144.63,372.45 L145.01,373.14 L145.39,373.82 L145.78,374.51 L146.16,375.20 L146.54,374.90 L146.93,374.60 L147.31,374.30 L147.69,374.00 L148.08,374.17 L148.46,374.35 L148.84,374.52 L149.22,374.69 L149.61,374.37 L149.99,374.04 L150.37,373.71 L150.76,373.39 L151.14,374.10 L151.52,374.82 L151.91,375.54 L152.29,376.26 L152.67,375.69 L153.05,375.12 L153.44,374.55 L153.82,373.98 L154.20,373.45 L154.59,372.92 L154.97,372.40 L155.35,371.87 L155.74,372.51 L156.12,373.17 L156.50,373.82 L156.88,374.48 L157.27,374.14 L157.65,373.80 L158.03,373.46 L158.42,373.11 L158.80,372.89 L159.18,372.66 L159.57,372.43 L159.95,372.20 L160.33,373.18 L160.71,374.17 L161.10,375.16 L161.48,376.16 L161.86,376.13 L162.25,376.09 L162.63,376.06 L163.01,376.03 L163.40,376.18 L163.78,376.32 L164.16,376.47 L164.54,376.61 L164.93,375.50 L165.31,374.38 L165.69,373.25 L166.08,372.12 L166.46,372.14 L166.84,372.16 L167.23,372.18 L167.61,372.19 L167.99,373.25 L168.37,374.31 L168.76,375.37 L169.14,376.44 L169.52,375.81 L169.91,375.18 L170.29,374.55 L170.67,373.91 L171.06,374.14 L171.44,374.37 L171.82,374.60 L172.20,374.83 L172.59,374.96 L172.97,375.09 L173.35,375.22 L173.74,375.36 L174.12,375.95 L174.50,376.55 L174.89,377.15" fill="none" stroke="#000" stroke-width="1.25" stroke-linejoin="round" stroke-dasharray="5 2 1.5 2"/>
<text x="82.60" y="279.60" font-size="13" text-anchor="middle" >2</text>
<text x="83.20" y="309.30" font-size="13" text-anchor="middle" >1</text>
<text x="110.20" y="313.80" font-size="13" text-anchor="middle" >3</text>
<text x="126.60" y="369.60" font-size="13" text-anchor="middle" >4</text>
<line x1="231.00" y1="246.40" x2="231.00" y2="381.00" stroke="#000" stroke-width="1.4" />
<line x1="230.20" y1="380.20" x2="346.60" y2="380.20" stroke="#000" stroke-width="1.4" />
<line x1="222.70" y1="375.50" x2="231.00" y2="375.50" stroke="#000" stroke-width="1.15" />
<text x="221.60" y="380.00" font-size="12.6" text-anchor="end" >0</text>
<line x1="226.80" y1="362.67" x2="231.00" y2="362.67" stroke="#000" stroke-width="1.15" />
<line x1="222.70" y1="349.84" x2="231.00" y2="349.84" stroke="#000" stroke-width="1.15" />
<text x="221.60" y="354.34" font-size="12.6" text-anchor="end" >50</text>
<line x1="226.80" y1="337.01" x2="231.00" y2="337.01" stroke="#000" stroke-width="1.15" />
<line x1="222.70" y1="324.18" x2="231.00" y2="324.18" stroke="#000" stroke-width="1.15" />
<text x="221.60" y="328.68" font-size="12.6" text-anchor="end" >100</text>
<line x1="226.80" y1="311.35" x2="231.00" y2="311.35" stroke="#000" stroke-width="1.15" />
<line x1="222.70" y1="298.52" x2="231.00" y2="298.52" stroke="#000" stroke-width="1.15" />
<text x="221.60" y="303.02" font-size="12.6" text-anchor="end" >150</text>
<line x1="226.80" y1="285.69" x2="231.00" y2="285.69" stroke="#000" stroke-width="1.15" />
<line x1="222.70" y1="272.86" x2="231.00" y2="272.86" stroke="#000" stroke-width="1.15" />
<text x="221.60" y="277.36" font-size="12.6" text-anchor="end" >200</text>
<line x1="226.80" y1="260.03" x2="231.00" y2="260.03" stroke="#000" stroke-width="1.15" />
<line x1="222.70" y1="247.20" x2="231.00" y2="247.20" stroke="#000" stroke-width="1.15" />
<text x="221.60" y="251.70" font-size="12.6" text-anchor="end" >250</text>
<line x1="231.00" y1="380.20" x2="231.00" y2="388.50" stroke="#000" stroke-width="1.15" />
<text x="231.00" y="399.90" font-size="11.0" text-anchor="middle" >0</text>
<line x1="240.57" y1="380.20" x2="240.57" y2="385.00" stroke="#000" stroke-width="1.15" />
<line x1="250.13" y1="380.20" x2="250.13" y2="388.50" stroke="#000" stroke-width="1.15" />
<text x="250.13" y="399.90" font-size="11.0" text-anchor="middle" >10</text>
<line x1="259.70" y1="380.20" x2="259.70" y2="385.00" stroke="#000" stroke-width="1.15" />
<line x1="269.27" y1="380.20" x2="269.27" y2="388.50" stroke="#000" stroke-width="1.15" />
<text x="269.27" y="399.90" font-size="11.0" text-anchor="middle" >20</text>
<line x1="278.83" y1="380.20" x2="278.83" y2="385.00" stroke="#000" stroke-width="1.15" />
<line x1="288.40" y1="380.20" x2="288.40" y2="388.50" stroke="#000" stroke-width="1.15" />
<text x="288.40" y="399.90" font-size="11.0" text-anchor="middle" >30</text>
<line x1="297.97" y1="380.20" x2="297.97" y2="385.00" stroke="#000" stroke-width="1.15" />
<line x1="307.53" y1="380.20" x2="307.53" y2="388.50" stroke="#000" stroke-width="1.15" />
<text x="307.53" y="399.90" font-size="11.0" text-anchor="middle" >40</text>
<line x1="317.10" y1="380.20" x2="317.10" y2="385.00" stroke="#000" stroke-width="1.15" />
<line x1="326.67" y1="380.20" x2="326.67" y2="388.50" stroke="#000" stroke-width="1.15" />
<text x="326.67" y="399.90" font-size="11.0" text-anchor="middle" >50</text>
<line x1="336.23" y1="380.20" x2="336.23" y2="385.00" stroke="#000" stroke-width="1.15" />
<line x1="345.80" y1="380.20" x2="345.80" y2="388.50" stroke="#000" stroke-width="1.15" />
<text x="345.80" y="399.20" font-size="11.0" text-anchor="middle" >60</text>
<text x="199.60" y="234.50" font-size="18.5" text-anchor="start" >D</text>
<text x="244.20" y="420.20" font-size="18.85" text-anchor="start" >Time (min)</text>
<path d="M231.00,375.81 L260.27,375.81" fill="none" stroke="#000" stroke-width="1.0" stroke-linejoin="round" />
<path d="M260.08,375.81 L260.47,375.02 L260.85,373.87 L261.23,371.86 L261.61,368.74 L262.00,364.90 L262.38,360.88 L262.76,356.77 L263.14,351.97 L263.53,345.42 L263.91,336.65 L264.29,326.30 L264.67,315.20 L265.06,304.29 L265.44,294.60 L265.82,286.61 L266.21,280.28 L266.59,275.42 L266.97,271.88 L267.35,269.63 L267.74,268.47 L268.12,268.27 L268.50,268.94 L268.88,270.42 L269.27,272.62 L269.65,275.32 L270.03,278.38 L270.41,281.82 L270.80,285.55 L271.18,289.49 L271.56,293.63 L271.95,297.95 L272.33,302.36 L272.71,306.85 L273.09,311.43 L273.48,316.03 L273.86,320.45 L274.24,324.38 L274.62,327.81 L275.01,331.00 L275.39,334.14 L275.77,337.28 L276.15,340.42 L276.54,343.56 L276.92,346.59 L277.30,349.20 L277.69,351.17 L278.07,352.71 L278.45,354.15 L278.83,355.59 L279.22,357.02 L279.60,358.46 L279.98,359.90 L280.36,361.34 L280.75,362.72 L281.13,363.91 L281.51,364.79 L281.89,365.47 L282.28,366.10 L282.66,366.74 L283.04,367.32 L283.43,367.86 L283.81,368.34 L284.19,368.76 L284.57,369.14 L284.96,369.61 L285.34,370.09 L285.72,370.57 L286.10,370.95 L286.49,371.21 L286.87,371.47 L287.25,371.71 L287.63,372.04 L288.02,372.36 L288.40,372.65 L288.78,372.89 L289.17,373.09 L289.55,373.30 L289.93,373.51 L290.31,373.69 L290.70,373.85 L291.08,374.00 L291.46,374.07 L291.84,374.06 L292.23,374.05 L292.61,374.02 L292.99,373.97 L293.37,373.89 L293.76,373.79 L294.14,373.93 L294.52,374.31 L294.91,374.69 L295.29,375.08 L295.67,374.70 L296.05,374.32 L296.44,373.94 L296.82,373.87 L297.20,374.09 L297.58,374.31 L297.97,374.53 L298.35,374.59 L298.73,374.66 L299.11,374.73 L299.50,374.60 L299.88,374.28 L300.26,373.95 L300.65,373.61 L301.03,373.86 L301.41,374.11 L301.79,374.36 L302.18,374.52 L302.56,374.60 L302.94,374.68 L303.32,374.75 L303.71,374.63 L304.09,374.50 L304.47,374.38 L304.85,374.25 L305.24,374.13 L305.62,374.00 L306.00,373.88 L306.39,374.22 L306.77,374.56 L307.15,374.90 L307.53,374.85 L307.92,374.38 L308.30,373.92 L308.68,373.46 L309.06,374.03 L309.45,374.60 L309.83,375.17 L310.21,375.22 L310.59,374.76 L310.98,374.29 L311.36,373.82 L311.74,373.76 L312.13,373.70 L312.51,373.64 L312.89,373.85 L313.27,374.33 L313.66,374.80 L314.04,375.28 L314.42,374.86 L314.80,374.44 L315.19,374.02 L315.57,373.94 L315.95,374.21 L316.33,374.47 L316.72,374.74 L317.10,374.63 L317.48,374.52 L317.87,374.41 L318.25,374.50 L318.63,374.80 L319.01,375.10 L319.40,375.40 L319.78,375.44 L320.16,375.48 L320.54,375.52 L320.93,375.47 L321.31,375.33 L321.69,375.19 L322.07,375.05 L322.46,374.61 L322.84,374.17 L323.22,373.73 L323.61,373.76 L323.99,374.26 L324.37,374.77 L324.75,375.28 L325.14,374.90 L325.52,374.52 L325.90,374.14 L326.28,373.91 L326.67,373.82 L327.05,373.74 L327.43,373.65 L327.81,373.73 L328.20,373.80 L328.58,373.88 L328.96,374.08 L329.35,374.42 L329.73,374.75 L330.11,375.09 L330.49,375.01 L330.88,374.94 L331.26,374.86 L331.64,374.80 L332.02,374.76 L332.41,374.73 L332.79,374.69 L333.17,374.54 L333.55,374.40 L333.94,374.25 L334.32,374.34 L334.70,374.66 L335.09,374.98 L335.47,375.30 L335.85,374.96 L336.23,374.61 L336.62,374.26 L337.00,374.07 L337.38,374.03 L337.76,374.00 L338.15,373.96 L338.53,373.95 L338.91,373.95 L339.29,373.94 L339.68,374.18 L340.06,374.65 L340.44,375.13 L340.83,375.61 L341.21,375.17 L341.59,374.72 L341.97,374.28 L342.36,374.28 L342.74,374.73 L343.12,375.18 L343.50,375.63 L343.89,375.49" fill="none" stroke="#000" stroke-width="1.35" stroke-linejoin="round" />
<path d="M260.08,375.81 L260.47,374.88 L260.85,373.41 L261.23,370.91 L261.61,367.29 L262.00,363.04 L262.38,358.64 L262.76,353.87 L263.14,347.64 L263.53,339.18 L263.91,329.02 L264.29,318.07 L264.67,307.11 L265.06,297.15 L265.44,288.72 L265.82,281.87 L266.21,276.53 L266.59,272.34 L266.97,269.11 L267.35,266.88 L267.74,265.67 L268.12,265.58 L268.50,266.55 L268.88,268.34 L269.27,270.77 L269.65,273.69 L270.03,276.91 L270.41,280.40 L270.80,284.10 L271.18,287.99 L271.56,292.08 L271.95,296.35 L272.33,300.74 L272.71,305.21 L273.09,309.77 L273.48,314.38 L273.86,318.88 L274.24,322.94 L274.62,326.45 L275.01,329.63 L275.39,332.74 L275.77,335.85 L276.15,338.96 L276.54,342.07 L276.92,345.12 L277.30,347.91 L277.69,350.14 L278.07,351.84 L278.45,353.26 L278.83,354.63 L279.22,356.00 L279.60,357.37 L279.98,358.74 L280.36,360.10 L280.75,361.47 L281.13,362.80 L281.51,363.93 L281.89,364.80 L282.28,365.47 L282.66,366.10 L283.04,366.73 L283.43,367.35 L283.81,367.92 L284.19,368.41 L284.57,368.83 L284.96,369.25 L285.34,369.66 L285.72,370.03 L286.10,370.32 L286.49,370.53 L286.87,370.73 L287.25,370.92 L287.63,371.08 L288.02,371.22 L288.40,371.34 L288.78,371.69 L289.17,372.30 L289.55,372.92 L289.93,373.59 L290.31,373.57 L290.70,373.50 L291.08,373.43 L291.46,373.39 L291.84,373.37 L292.23,373.36 L292.61,373.35 L292.99,373.65 L293.37,373.92 L293.76,374.17 L294.14,374.24 L294.52,374.14 L294.91,374.04 L295.29,373.95 L295.67,374.21 L296.05,374.47 L296.44,374.72 L296.82,374.66 L297.20,374.27 L297.58,373.88 L297.97,373.49 L298.35,373.74 L298.73,373.98 L299.11,374.23 L299.50,374.44 L299.88,374.61 L300.26,374.78 L300.65,374.93 L301.03,374.71 L301.41,374.48 L301.79,374.26 L302.18,374.23 L302.56,374.41 L302.94,374.58 L303.32,374.76 L303.71,374.79 L304.09,374.81 L304.47,374.84 L304.85,374.77 L305.24,374.62 L305.62,374.46 L306.00,374.30 L306.39,374.48 L306.77,374.65 L307.15,374.83 L307.53,374.92 L307.92,374.92 L308.30,374.91 L308.68,374.91 L309.06,374.61 L309.45,374.31 L309.83,374.02 L310.21,373.87 L310.59,373.89 L310.98,373.90 L311.36,373.91 L311.74,374.28 L312.13,374.64 L312.51,375.01 L312.89,375.00 L313.27,374.61 L313.66,374.23 L314.04,373.84 L314.42,374.25 L314.80,374.66 L315.19,375.06 L315.57,375.20 L315.95,375.07 L316.33,374.93 L316.72,374.80 L317.10,374.49 L317.48,374.19 L317.87,373.89 L318.25,373.81 L318.63,373.95 L319.01,374.10 L319.40,374.24 L319.78,374.47 L320.16,374.70 L320.54,374.93 L320.93,375.00 L321.31,374.89 L321.69,374.78 L322.07,374.67 L322.46,374.65 L322.84,374.62 L323.22,374.59 L323.61,374.69 L323.99,374.93 L324.37,375.17 L324.75,375.41 L325.14,374.86 L325.52,374.31 L325.90,373.76 L326.28,373.75 L326.67,374.27 L327.05,374.79 L327.43,375.31 L327.81,375.19 L328.20,375.07 L328.58,374.96 L328.96,374.82 L329.35,374.65 L329.73,374.49 L330.11,374.33 L330.49,374.45 L330.88,374.56 L331.26,374.68 L331.64,374.61 L332.02,374.35 L332.41,374.09 L332.79,373.83 L333.17,374.21 L333.55,374.60 L333.94,374.99 L334.32,374.96 L334.70,374.53 L335.09,374.09 L335.47,373.66 L335.85,373.70 L336.23,373.75 L336.62,373.79 L337.00,373.87 L337.38,373.98 L337.76,374.09 L338.15,374.20 L338.53,374.11 L338.91,374.02 L339.29,373.93 L339.68,374.02 L340.06,374.29 L340.44,374.56 L340.83,374.84 L341.21,374.67 L341.59,374.51 L341.97,374.35 L342.36,374.28 L342.74,374.28 L343.12,374.29 L343.50,374.30 L343.89,374.44" fill="none" stroke="#000" stroke-width="1.45" stroke-linejoin="round" stroke-dasharray="1.6 1.6"/>
<path d="M260.85,375.81 L283.04,375.81" fill="none" stroke="#000" stroke-width="0.9" stroke-linejoin="round" stroke-dasharray="5 2 1.5 2"/>
<path d="M283.04,375.81 L283.43,374.71 L283.81,372.90 L284.19,370.02 L284.57,366.52 L284.96,363.21 L285.34,360.43 L285.72,358.00 L286.10,355.67 L286.49,353.30 L286.87,350.74 L287.25,347.80 L287.63,344.47 L288.02,340.96 L288.40,337.40 L288.78,333.85 L289.17,330.41 L289.55,327.44 L289.93,325.15 L290.31,323.32 L290.70,321.65 L291.08,320.13 L291.46,318.93 L291.84,318.09 L292.23,317.58 L292.61,317.46 L292.99,317.69 L293.37,318.14 L293.76,318.79 L294.14,319.71 L294.52,320.79 L294.91,321.92 L295.29,323.07 L295.67,324.32 L296.05,325.71 L296.44,327.20 L296.82,328.71 L297.20,330.22 L297.58,331.73 L297.97,333.24 L298.35,334.74 L298.73,336.22 L299.11,337.65 L299.50,339.03 L299.88,340.39 L300.26,341.74 L300.65,343.09 L301.03,344.44 L301.41,345.79 L301.79,347.14 L302.18,348.47 L302.56,349.72 L302.94,350.85 L303.32,351.89 L303.71,352.92 L304.09,353.95 L304.47,354.97 L304.85,356.00 L305.24,357.02 L305.62,358.05 L306.00,359.06 L306.39,359.97 L306.77,360.75 L307.15,361.44 L307.53,362.11 L307.92,362.77 L308.30,363.44 L308.68,364.11 L309.06,364.77 L309.45,365.44 L309.83,366.09 L310.21,366.66 L310.59,367.13 L310.98,367.51 L311.36,367.88 L311.74,368.25 L312.13,368.62 L312.51,368.99 L312.89,369.36 L313.27,369.73 L313.66,370.10 L314.04,370.47 L314.42,370.83 L314.80,371.16 L315.19,371.40 L315.57,371.57 L315.95,371.71 L316.33,371.83 L316.72,371.96 L317.10,372.08 L317.48,372.21 L317.87,372.34 L318.25,372.45 L318.63,372.53 L319.01,372.57 L319.40,372.60 L319.78,372.68 L320.16,372.77 L320.54,372.86 L320.93,373.00 L321.31,373.21 L321.69,373.43 L322.07,373.68 L322.46,373.70 L322.84,373.67 L323.22,373.60 L323.61,373.75 L323.99,374.13 L324.37,374.51 L324.75,374.88 L325.14,374.53 L325.52,374.17 L325.90,373.81 L326.28,373.66 L326.67,373.70 L327.05,373.75 L327.43,373.79 L327.81,373.71 L328.20,373.63 L328.58,373.55 L328.96,373.56 L329.35,373.66 L329.73,373.76 L330.11,373.86 L330.49,374.07 L330.88,374.27 L331.26,374.47 L331.64,374.57 L332.02,374.58 L332.41,374.59 L332.79,374.60 L333.17,374.47 L333.55,374.34 L333.94,374.21 L334.32,374.29 L334.70,374.57 L335.09,374.85 L335.47,375.13 L335.85,374.93 L336.23,374.73 L336.62,374.54 L337.00,374.51 L337.38,374.65 L337.76,374.79 L338.15,374.93 L338.53,374.98 L338.91,375.04 L339.29,375.10 L339.68,375.16 L340.06,375.23 L340.44,375.30 L340.83,375.37 L341.21,375.08 L341.59,374.80 L341.97,374.52 L342.36,374.53 L342.74,374.83 L343.12,375.13 L343.50,375.43 L343.89,375.38" fill="none" stroke="#000" stroke-width="1.4" stroke-linejoin="round" stroke-dasharray="4 1.6 1.4 1.6"/>
<path d="M315.19,374.47 L315.57,374.18 L315.95,373.73 L316.33,373.04 L316.72,372.20 L317.10,371.30 L317.48,370.23 L317.87,368.86 L318.25,367.18 L318.63,365.34 L319.01,363.47 L319.40,361.60 L319.78,359.73 L320.16,357.91 L320.54,356.24 L320.93,354.81 L321.31,353.54 L321.69,352.30 L322.07,351.07 L322.46,349.84 L322.84,348.66 L323.22,347.68 L323.61,347.00 L323.99,346.51 L324.37,346.08 L324.75,345.67 L325.14,345.33 L325.52,345.10 L325.90,344.93 L326.28,344.79 L326.67,344.66 L327.05,344.60 L327.43,344.63 L327.81,344.73 L328.20,344.84 L328.58,344.97 L328.96,345.14 L329.35,345.38 L329.73,345.67 L330.11,345.97 L330.49,346.27 L330.88,346.57 L331.26,346.90 L331.64,347.28 L332.02,347.72 L332.41,348.17 L332.79,348.63 L333.17,349.10 L333.55,349.56 L333.94,350.02 L334.32,350.48 L334.70,350.94 L335.09,351.41 L335.47,351.87 L335.85,352.33 L336.23,352.78 L336.62,353.21 L337.00,353.63 L337.38,354.04 L337.76,354.44 L338.15,354.85 L338.53,355.25 L338.91,355.66 L339.29,356.06 L339.68,356.47 L340.06,356.87 L340.44,357.28 L340.83,357.68 L341.21,358.09 L341.59,358.50 L341.97,358.90 L342.36,359.31 L342.74,359.71 L343.12,360.12 L343.50,360.52 L343.89,360.93" fill="none" stroke="#000" stroke-width="1.4" stroke-linejoin="round" stroke-dasharray="4 1.6 1.4 1.6"/>
<text x="259.20" y="286.50" font-size="13" text-anchor="middle" >1</text>
<text x="277.90" y="286.50" font-size="13" text-anchor="middle" >2</text>
<text x="300.40" y="320.50" font-size="13" text-anchor="middle" >3</text>
<text x="336.60" y="345.00" font-size="13" text-anchor="middle" >4</text>
<line x1="398.50" y1="247.80" x2="398.50" y2="381.55" stroke="#000" stroke-width="1.4" />
<line x1="397.70" y1="380.75" x2="514.60" y2="380.75" stroke="#000" stroke-width="1.4" />
<line x1="390.20" y1="373.80" x2="398.50" y2="373.80" stroke="#000" stroke-width="1.15" />
<text x="388.40" y="378.30" font-size="12" text-anchor="end" >0</text>
<line x1="394.30" y1="361.28" x2="398.50" y2="361.28" stroke="#000" stroke-width="1.15" />
<line x1="390.20" y1="348.76" x2="398.50" y2="348.76" stroke="#000" stroke-width="1.15" />
<text x="388.40" y="353.26" font-size="12" text-anchor="end" >10</text>
<line x1="394.30" y1="336.24" x2="398.50" y2="336.24" stroke="#000" stroke-width="1.15" />
<line x1="390.20" y1="323.72" x2="398.50" y2="323.72" stroke="#000" stroke-width="1.15" />
<text x="388.40" y="328.22" font-size="12" text-anchor="end" >20</text>
<line x1="394.30" y1="311.20" x2="398.50" y2="311.20" stroke="#000" stroke-width="1.15" />
<line x1="390.20" y1="298.68" x2="398.50" y2="298.68" stroke="#000" stroke-width="1.15" />
<text x="388.40" y="303.18" font-size="12" text-anchor="end" >30</text>
<line x1="394.30" y1="286.16" x2="398.50" y2="286.16" stroke="#000" stroke-width="1.15" />
<line x1="390.20" y1="273.64" x2="398.50" y2="273.64" stroke="#000" stroke-width="1.15" />
<text x="388.40" y="278.14" font-size="12" text-anchor="end" >40</text>
<line x1="394.30" y1="261.12" x2="398.50" y2="261.12" stroke="#000" stroke-width="1.15" />
<line x1="390.20" y1="248.60" x2="398.50" y2="248.60" stroke="#000" stroke-width="1.15" />
<text x="388.40" y="253.10" font-size="12" text-anchor="end" >50</text>
<line x1="398.50" y1="380.75" x2="398.50" y2="389.05" stroke="#000" stroke-width="1.15" />
<text x="398.50" y="399.90" font-size="11.0" text-anchor="middle" >0</text>
<line x1="408.11" y1="380.75" x2="408.11" y2="385.55" stroke="#000" stroke-width="1.15" />
<line x1="417.72" y1="380.75" x2="417.72" y2="389.05" stroke="#000" stroke-width="1.15" />
<text x="417.72" y="399.90" font-size="11.0" text-anchor="middle" >10</text>
<line x1="427.32" y1="380.75" x2="427.32" y2="385.55" stroke="#000" stroke-width="1.15" />
<line x1="436.93" y1="380.75" x2="436.93" y2="389.05" stroke="#000" stroke-width="1.15" />
<text x="436.93" y="399.90" font-size="11.0" text-anchor="middle" >20</text>
<line x1="446.54" y1="380.75" x2="446.54" y2="385.55" stroke="#000" stroke-width="1.15" />
<line x1="456.15" y1="380.75" x2="456.15" y2="389.05" stroke="#000" stroke-width="1.15" />
<text x="456.15" y="399.90" font-size="11.0" text-anchor="middle" >30</text>
<line x1="465.76" y1="380.75" x2="465.76" y2="385.55" stroke="#000" stroke-width="1.15" />
<line x1="475.37" y1="380.75" x2="475.37" y2="389.05" stroke="#000" stroke-width="1.15" />
<text x="475.37" y="399.90" font-size="11.0" text-anchor="middle" >40</text>
<line x1="484.97" y1="380.75" x2="484.97" y2="385.55" stroke="#000" stroke-width="1.15" />
<line x1="494.58" y1="380.75" x2="494.58" y2="389.05" stroke="#000" stroke-width="1.15" />
<text x="494.58" y="399.90" font-size="11.0" text-anchor="middle" >50</text>
<line x1="504.19" y1="380.75" x2="504.19" y2="385.55" stroke="#000" stroke-width="1.15" />
<line x1="513.80" y1="380.75" x2="513.80" y2="389.05" stroke="#000" stroke-width="1.15" />
<text x="513.80" y="399.20" font-size="11.0" text-anchor="middle" >60</text>
<text x="374.60" y="234.50" font-size="18.5" text-anchor="start" >E</text>
<text x="412.40" y="420.20" font-size="18.85" text-anchor="start" >Time (min)</text>
<path d="M398.50,373.05 L398.88,373.62 L399.27,374.19 L399.65,374.73 L400.04,375.24 L400.42,375.69 L400.81,376.07 L401.19,376.21 L401.57,376.00 L401.96,375.52 L402.34,374.84 L402.73,373.94 L403.11,372.92 L403.50,371.94 L403.88,371.12 L404.26,370.44 L404.65,369.85 L405.03,369.27 L405.42,368.70 L405.80,368.08 L406.19,367.29 L406.57,366.25 L406.96,365.04 L407.34,363.78 L407.72,362.50 L408.11,361.08 L408.49,359.46 L408.88,357.65 L409.26,355.52 L409.65,352.84 L410.03,349.60 L410.41,346.05 L410.80,342.34 L411.18,338.47 L411.57,334.49 L411.95,330.48 L412.34,326.50 L412.72,322.66 L413.10,319.02 L413.49,315.57 L413.87,312.18 L414.26,308.81 L414.64,305.43 L415.03,302.14 L415.41,299.19 L415.80,296.76 L416.18,294.67 L416.56,292.69 L416.95,290.84 L417.33,289.22 L417.72,287.85 L418.10,286.61 L418.49,285.43 L418.87,284.45 L419.25,283.75 L419.64,283.25 L420.02,282.79 L420.41,282.36 L420.79,282.06 L421.18,282.02 L421.56,282.24 L421.94,282.61 L422.33,283.09 L422.71,283.76 L423.10,284.60 L423.48,285.53 L423.87,286.49 L424.25,287.48 L424.63,288.54 L425.02,289.67 L425.40,290.83 L425.79,292.00 L426.17,293.18 L426.56,294.41 L426.94,295.75 L427.32,297.19 L427.71,298.68 L428.09,300.18 L428.48,301.70 L428.86,303.27 L429.25,304.92 L429.63,306.65 L430.02,308.52 L430.40,310.65 L430.78,313.03 L431.17,315.55 L431.55,318.09 L431.94,320.63 L432.32,323.14 L432.71,325.54 L433.09,327.71 L433.47,329.65 L433.86,331.47 L434.24,333.27 L434.63,335.07 L435.01,336.87 L435.40,338.66 L435.78,340.46 L436.16,342.26 L436.55,344.04 L436.93,345.69 L437.32,347.12 L437.70,348.30 L438.09,349.37 L438.47,350.42 L438.85,351.47 L439.24,352.52 L439.62,353.56 L440.01,354.61 L440.39,355.66 L440.78,356.69 L441.16,357.70 L441.55,358.56 L441.93,359.26 L442.31,359.83 L442.70,360.17 L443.08,360.42 L443.47,360.56 L443.85,361.20 L444.24,361.89 L444.62,362.63 L445.00,363.35 L445.39,364.07 L445.77,364.83 L446.16,365.22 L446.54,365.15 L446.93,364.96 L447.31,364.88 L447.69,365.53 L448.08,366.18 L448.46,366.87 L448.85,367.00 L449.23,367.12 L449.62,367.21 L450.00,367.29 L450.38,367.36 L450.77,367.40 L451.15,367.97 L451.54,369.11 L451.92,370.30 L452.31,371.26 L452.69,371.42 L453.08,371.57 L453.46,371.71 L453.84,371.00 L454.23,370.23 L454.61,369.47 L455.00,370.53 L455.38,372.21 L455.77,373.86 L456.15,374.14 L456.53,373.01 L456.92,371.82 L457.30,371.24 L457.69,372.53 L458.07,373.82 L458.46,375.11 L458.84,373.97 L459.22,372.84 L459.61,371.70 L459.99,371.41 L460.38,371.39 L460.76,371.38 L461.15,371.13 L461.53,370.66 L461.91,370.19 L462.30,369.89 L462.68,370.10 L463.07,370.32 L463.45,370.53 L463.84,371.19 L464.22,371.85 L464.61,372.51 L464.99,373.13 L465.37,373.72 L465.76,374.32 L466.14,374.67 L466.53,374.76 L466.91,374.86 L467.30,374.76 L467.68,374.03 L468.06,373.31 L468.45,372.59 L468.83,372.63 L469.22,372.68 L469.60,372.72 L469.99,373.37 L470.37,374.22 L470.75,375.07 L471.14,374.70 L471.52,373.10 L471.91,371.51 L472.29,370.50 L472.68,371.27 L473.06,372.04 L473.44,372.81 L473.83,372.45 L474.21,372.08 L474.60,371.71 L474.98,372.32 L475.37,373.26 L475.75,374.19 L476.14,374.64 L476.52,374.60 L476.90,374.56 L477.29,374.64 L477.67,375.10 L478.06,375.55 L478.44,376.00 L478.83,375.37 L479.21,374.74 L479.59,374.11 L479.98,374.07 L480.36,374.22 L480.75,374.38 L481.13,374.31 L481.52,374.01 L481.90,373.72 L482.28,373.52 L482.67,373.62 L483.05,373.71 L483.44,373.81 L483.82,372.93 L484.21,372.06 L484.59,371.19 L484.98,370.89 L485.36,370.79 L485.74,370.68 L486.13,371.33 L486.51,372.71 L486.90,374.10 L487.28,375.03 L487.67,374.62 L488.05,374.20 L488.43,373.78 L488.82,374.23 L489.20,374.68 L489.59,375.13 L489.97,374.53 L490.36,373.58 L490.74,372.63 L491.12,371.85 L491.51,371.26 L491.89,370.67 L492.28,370.60 L492.66,372.09 L493.05,373.59 L493.43,375.08 L493.81,374.00 L494.20,372.92 L494.58,371.84 L494.97,372.25 L495.35,373.16 L495.74,374.06 L496.12,374.79 L496.51,375.35 L496.89,375.91 L497.27,375.97 L497.66,374.53 L498.04,373.09 L498.43,371.65 L498.81,372.47 L499.20,373.29 L499.58,374.12 L499.96,374.57 L500.35,374.91 L500.73,375.25 L501.12,375.17 L501.50,374.66 L501.89,374.16 L502.27,373.88 L502.65,374.28 L503.04,374.68 L503.42,375.08 L503.81,374.74 L504.19,374.40 L504.58,374.07 L504.96,373.94 L505.34,373.87 L505.73,373.81 L506.11,373.81 L506.50,373.87 L506.88,373.93 L507.27,373.90 L507.65,373.58 L508.04,373.25 L508.42,372.93 L508.80,373.52 L509.19,374.10 L509.57,374.69 L509.96,375.12 L510.34,375.50 L510.73,375.88 L511.11,376.08 L511.49,376.11 L511.88,376.13" fill="none" stroke="#000" stroke-width="1.45" stroke-linejoin="round" />
<path d="M400.42,371.17 L400.90,371.28 L401.38,371.45 L401.86,371.69 L402.34,371.57 L402.82,371.17 L403.30,370.76 L403.78,370.53 L404.26,371.01 L404.75,371.49 L405.23,371.97 L405.71,371.99 L406.19,371.72 L406.67,371.44 L407.15,371.17 L407.63,370.95 L408.11,370.73 L408.59,370.50 L409.07,370.55 L409.55,371.01 L410.03,371.46 L410.51,371.92 L410.99,371.80 L411.47,371.54 L411.95,371.27 L412.43,371.06 L412.91,371.02 L413.39,370.99 L413.87,370.95 L414.35,371.13 L414.83,371.45 L415.31,371.77 L415.80,372.09 L416.28,371.90 L416.76,371.71 L417.24,371.53 L417.72,371.34 L418.20,371.16 L418.68,370.98 L419.16,370.80 L419.64,370.88 L420.12,371.02 L420.60,371.15 L421.08,371.24 L421.56,371.08 L422.04,370.93 L422.52,370.78 L423.00,370.91 L423.48,371.23 L423.96,371.54 L424.44,371.86 L424.92,371.81 L425.40,371.77 L425.88,371.72 L426.36,371.72 L426.84,371.79 L427.32,371.87 L427.81,371.94 L428.29,371.77 L428.77,371.55 L429.25,371.33 L429.73,371.11 L430.21,370.88 L430.69,370.65 L431.17,370.41 L431.65,370.43 L432.13,370.62 L432.61,370.80 L433.09,370.99 L433.57,370.89 L434.05,370.79 L434.53,370.68 L435.01,370.71 L435.49,370.93 L435.97,371.14 L436.45,371.36 L436.93,371.24 L437.41,371.04 L437.89,370.84 L438.37,370.75 L438.86,371.11 L439.34,371.47 L439.82,371.83 L440.30,371.91 L440.78,371.80 L441.26,371.69 L441.74,371.59 L442.22,371.38 L442.70,371.16 L443.18,370.95 L443.66,370.81 L444.14,370.78 L444.62,370.75 L445.10,370.72 L445.58,370.85 L446.06,371.02 L446.54,371.19 L447.02,371.36 L447.50,371.55 L447.98,371.74 L448.46,371.92 L448.94,371.94 L449.42,371.84 L449.90,371.74 L450.38,371.64 L450.87,371.67 L451.35,371.70 L451.83,371.73 L452.31,371.74 L452.79,371.70 L453.27,371.66 L453.75,371.62 L454.23,371.37 L454.71,371.08 L455.19,370.79 L455.67,370.62 L456.15,370.96 L456.63,371.30 L457.11,371.64 L457.59,371.54 L458.07,371.16 L458.55,370.78 L459.03,370.40 L459.51,370.40 L459.99,370.40 L460.47,370.41 L460.95,370.59 L461.43,371.05 L461.91,371.51 L462.40,371.97 L462.88,371.92 L463.36,371.74 L463.84,371.56 L464.32,371.40 L464.80,371.34 L465.28,371.28 L465.76,371.21 L466.24,371.34 L466.72,371.60 L467.20,371.86 L467.68,372.13 L468.16,371.90 L468.64,371.68 L469.12,371.46 L469.60,371.21 L470.08,370.95 L470.56,370.68 L471.04,370.41 L471.52,370.71 L472.00,371.15 L472.48,371.59 L472.96,371.89 L473.44,371.62 L473.93,371.35 L474.41,371.08 L474.89,371.14 L475.37,371.40 L475.85,371.66 L476.33,371.93 L476.81,371.67 L477.29,371.42 L477.77,371.17 L478.25,370.94 L478.73,370.77 L479.21,370.59 L479.69,370.41 L480.17,370.69 L480.65,371.07 L481.13,371.46 L481.61,371.79 L482.09,371.90 L482.57,372.00 L483.05,372.11 L483.53,372.13 L484.01,372.09 L484.49,372.05 L484.97,372.01 L485.46,371.75 L485.94,371.50 L486.42,371.24 L486.90,371.21 L487.38,371.50 L487.86,371.79 L488.34,372.08 L488.82,372.11 L489.30,372.07 L489.78,372.03 L490.26,371.96 L490.74,371.73 L491.22,371.50 L491.70,371.27 L492.18,371.04 L492.66,370.80 L493.14,370.56 L493.62,370.33 L494.10,370.61 L494.58,370.88 L495.06,371.16 L495.54,371.34 L496.02,371.35 L496.50,371.36 L496.99,371.37 L497.47,371.27 L497.95,371.13 L498.43,371.00 L498.91,370.95 L499.39,371.26 L499.87,371.56 L500.35,371.86 L500.83,371.82 L501.31,371.55 L501.79,371.28 L502.27,371.01 L502.75,371.24 L503.23,371.46 L503.71,371.69 L504.19,371.73 L504.67,371.49 L505.15,371.24 L505.63,371.00 L506.11,370.80 L506.59,370.60 L507.07,370.41 L507.55,370.35 L508.03,370.86 L508.52,371.36 L509.00,371.86 L509.48,371.90 L509.96,371.62 L510.44,371.34 L510.92,371.06 L511.40,371.03 L511.88,371.00" fill="none" stroke="#000" stroke-width="1.2" stroke-linejoin="round" stroke-dasharray="4.3 1.9"/>
<text x="421.60" y="278.30" font-size="13" text-anchor="middle" >1</text>
<text x="422.80" y="368.00" font-size="13" text-anchor="middle" >2</text>
</svg>
</body></html>
